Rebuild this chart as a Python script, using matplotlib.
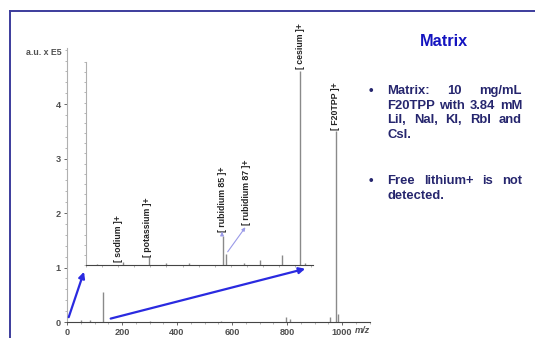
import numpy as np
import matplotlib.pyplot as plt
from matplotlib.lines import Line2D
from matplotlib.ticker import MultipleLocator

plt.rcParams['font.family'] = ['Liberation Sans', 'DejaVu Sans']

# main spectrum, m/z 0-1100, intensity in a.u. x E5
main_mz = [52, 84, 131, 300, 560, 796, 810, 956, 978, 986]
main_int = [0.03, 0.04, 0.55, 0.02, 0.02, 0.10, 0.06, 0.10, 3.50, 0.15]

# zoomed region m/z 0-141 (relative intensity)
zoom_mz = [7, 23, 39, 50, 64, 85, 87, 98, 108, 122, 133, 136]
zoom_int = [0.004, 0.015, 0.04, 0.01, 0.008, 0.143, 0.054, 0.008, 0.025, 0.05, 0.955, 0.01]

# labels: (text, m/z, label height)
zoom_labels = [('[ sodium ]+', 20, 0.015), ('[ potassium ]+', 38, 0.04),
               ('[ rubidium 85 ]+', 84.5, 0.163), ('[ rubidium 87 ]+', 100, 0.197),
               ('[ cesium ]+', 133, 0.965)]
main_labels = [('[ F20TPP ]+', 978, 3.52)]

W, H = 535, 338
def fx(x):
    return x / W
def fy(y):
    return 1 - y / H

fig = plt.figure(figsize=(W / 100, H / 100), dpi=100)

# slide border
fig.add_artist(Line2D([fx(10), 1], [fy(11), fy(11)], color='#3c3c9c', lw=1.4))
fig.add_artist(Line2D([fx(10), fx(10)], [fy(11), 0], color='#3c3c9c', lw=1.4))

grey = '#505050'
ax = fig.add_axes([fx(67), fy(322), 302.5 / W, 274 / H])
ax.set_xlim(0, 1100)
ax.set_ylim(0, 5.03)
ax.vlines(main_mz, 0, main_int, color='#8a8a8a', lw=1.0)
for s in ['top', 'right']:
    ax.spines[s].set_visible(False)
ax.spines['left'].set_color('#b0b0b0')
ax.spines['bottom'].set_color('#444444')
ax.spines['left'].set_linewidth(0.8)
ax.spines['bottom'].set_linewidth(0.8)
ax.set_xticks([0, 200, 400, 600, 800, 1000])
ax.set_yticks([0, 1, 2, 3, 4])
ax.xaxis.set_minor_locator(MultipleLocator(50))
ax.yaxis.set_minor_locator(MultipleLocator(0.2))
ax.tick_params(labelsize=6.6, colors=grey, length=2.5, width=0.6, pad=2)
ax.tick_params(which='minor', length=1.5, width=0.5, colors='#999999')
for lab in ax.get_xticklabels() + ax.get_yticklabels():
    lab.set_fontweight('bold')
ax.text(1045, -0.155, 'm/z', fontsize=6.6, style='italic', fontweight='bold',
        color=grey, ha='left', va='center', clip_on=False)
ax.text(-0.018, 0.985, 'a.u. x E5', transform=ax.transAxes, fontsize=6.3,
        fontweight='bold', color=grey, ha='right', va='center')
for t, x, y in main_labels:
    ax.text(x, y, t, rotation=90, fontsize=6.3, fontweight='bold', color='#222222',
            ha='center', va='bottom')

# blue arrows from the main axis to the zoomed view
ax.annotate('', xy=(65, 0.97), xytext=(3, 0.04),
            arrowprops=dict(arrowstyle='-|>', color='#2a2ae0', lw=1.6, mutation_scale=9))
ax.annotate('', xy=(876, 0.99), xytext=(149, 0.05),
            arrowprops=dict(arrowstyle='-|>', color='#2a2ae0', lw=1.6, mutation_scale=9))

# zoomed spectrum
axz = fig.add_axes([fx(86), fy(265), 227 / W, 203 / H])
axz.patch.set_alpha(0)
axz.set_xlim(0, 141)
axz.set_ylim(0, 1)
axz.vlines(zoom_mz, 0, zoom_int, color='#8a8a8a', lw=1.0)
for s in ['top', 'right']:
    axz.spines[s].set_visible(False)
axz.spines['left'].set_color('#b0b0b0')
axz.spines['bottom'].set_color('#444444')
axz.spines['left'].set_linewidth(0.8)
axz.spines['bottom'].set_linewidth(0.8)
axz.set_xticks([])
axz.set_yticks([])
axz.xaxis.set_minor_locator(MultipleLocator(10))
axz.yaxis.set_minor_locator(MultipleLocator(0.05))
axz.tick_params(which='minor', length=1.5, width=0.5, colors='#999999')
for t, x, y in zoom_labels:
    axz.text(x, y, t, rotation=90, fontsize=6.3, fontweight='bold', color='#222222',
             ha='center', va='bottom')
axz.annotate('', xy=(84.5, 0.163), xytext=(84.5, 0.143),
             arrowprops=dict(arrowstyle='-|>', color='#9a9ae8', lw=0.8, mutation_scale=5))
axz.annotate('', xy=(100, 0.197), xytext=(87, 0.054),
             arrowprops=dict(arrowstyle='-|>', color='#9a9ae8', lw=0.8, mutation_scale=5))

# right-hand text panel
navy = '#26266e'
fig.text(fx(444), fy(42), 'Matrix', fontsize=11.7, fontweight='bold',
         color='#1414c0', ha='center', va='center')

renderer = fig.canvas.get_renderer()
left, right = 387, 522
def put_line(words, y, justify=True):
    items = [fig.text(0, fy(y), w, fontsize=9.4, fontweight='bold', color=navy,
                      ha='left', va='center') for w in words]
    widths = [it.get_window_extent(renderer).width for it in items]
    if justify and len(words) > 1:
        gap = (right - left - sum(widths)) / (len(words) - 1)
    else:
        gap = 0.26 * 9.4 * 100 / 72
    x = left
    for it, w in zip(items, widths):
        it.set_x(fx(x))
        x += w + gap

bullets = [
    [('Matrix: 10 mg/mL', True), ('F20TPP with 3.84 mM', True),
     ('LiI, NaI, KI, RbI and', True), ('CsI.', False)],
    [('Free lithium+ is not', True), ('detected.', False)],
]
starts = [91, 181]
for lines, y0 in zip(bullets, starts):
    fig.text(fx(371), fy(y0), '\u2022', fontsize=9.4, fontweight='bold',
             color=navy, ha='center', va='center')
    for i, (line, just) in enumerate(lines):
        put_line(line.split(), y0 + i * 14.6, just)

fig.savefig('out.png', dpi=100)
